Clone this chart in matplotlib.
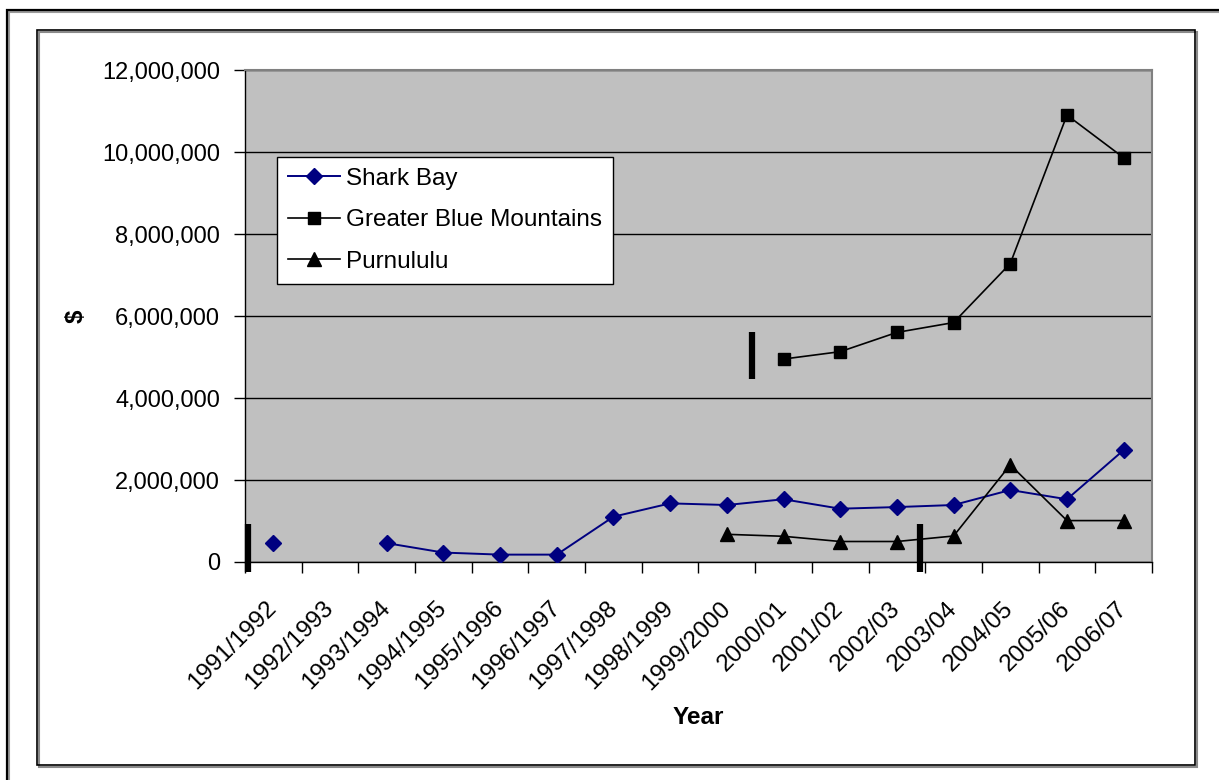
import matplotlib
matplotlib.use("Agg")
import matplotlib.pyplot as plt
from matplotlib.patches import Rectangle
from matplotlib.ticker import FuncFormatter, FixedLocator
from matplotlib.transforms import ScaledTranslation
import numpy as np

plt.rcParams['font.family'] = ['Liberation Sans', 'DejaVu Sans']

years = ["1991/1992", "1992/1993", "1993/1994", "1994/1995", "1995/1996",
         "1996/1997", "1997/1998", "1998/1999", "1999/2000", "2000/01",
         "2001/02", "2002/03", "2003/04", "2004/05", "2005/06", "2006/07"]

shark_bay = [460000, None, 460000, 230000, 180000, 180000, 1105000, 1430000,
             1390000, 1530000, 1300000, 1340000, 1390000, 1756000, 1530000,
             2730000]
blue_mountains = [None, None, None, None, None, None, None, None, None,
                  4950000, 5130000, 5600000, 5840000, 7280000, 10900000,
                  9860000]
purnululu = [None, None, None, None, None, None, None, None, 675000,
             627000, 500000, 500000, 634000, 2370000, 1010000, 1010000]

# World Heritage listing markers: (category position, bottom, top)
listing_marks = [(-0.45, -240000, 930000),
                 (8.44, 4460000, 5620000),
                 (11.40, -240000, 930000)]

W, H = 1219, 780
fig = plt.figure(figsize=(W / 100, H / 100), dpi=100)


def fx(px):
    return px / W


def fy(py):
    return 1 - py / H


# Outer and inner frames of the chart object
outer_shadow = Rectangle((fx(9), fy(800)), fx(1240), fy(12) - fy(800),
                         transform=fig.transFigure, fill=False,
                         edgecolor='#9a9a9a', lw=1.5)
outer = Rectangle((fx(7), fy(800)), fx(1240), fy(10) - fy(800),
                  transform=fig.transFigure, fill=False,
                  edgecolor='black', lw=1.6)
inner_shadow = Rectangle((fx(39), fy(767)), fx(1158), fy(32) - fy(767),
                         transform=fig.transFigure, fill=False,
                         edgecolor='#8a8a8a', lw=1.5)
inner = Rectangle((fx(37), fy(765)), fx(1158), fy(30) - fy(765),
                  transform=fig.transFigure, fill=False,
                  edgecolor='black', lw=1.2)
for p in (outer_shadow, outer, inner_shadow, inner):
    fig.add_artist(p)

ax = fig.add_axes([fx(245), fy(562), fx(1152) - fx(245), fy(70) - fy(562)])
ax.set_facecolor('#C0C0C0')

x = np.arange(len(years))


def series(vals):
    return np.array([np.nan if v is None else v for v in vals], dtype=float)


ax.plot(x, series(shark_bay), color='#000080', lw=1.4, marker='D',
        markersize=8.5, label='Shark Bay', zorder=4)
ax.plot(x, series(blue_mountains), color='black', lw=1.2, marker='s',
        markersize=9, label='Greater Blue Mountains', zorder=4)
ax.plot(x, series(purnululu), color='black', lw=1.2, marker='^',
        markersize=10, label='Purnululu', zorder=4)

for xm, y0, y1 in listing_marks:
    ax.plot([xm, xm], [y0, y1], color='black', lw=4.5,
            solid_capstyle='butt', clip_on=False, zorder=6)

ax.set_xlim(-0.5, len(years) - 0.5)
ax.set_ylim(0, 12000000)
ax.yaxis.set_major_locator(FixedLocator(np.arange(0, 12000001, 2000000)))
ax.yaxis.set_major_formatter(FuncFormatter(lambda v, p: f"{int(v):,}"))
ax.grid(axis='y', color='black', lw=1.0)
ax.set_axisbelow(True)

# Tick marks on category boundaries, labels centred on categories
ax.set_xticks(np.arange(-0.5, len(years), 1.0))
ax.set_xticklabels([])
ax.set_xticks(x, minor=True)
ax.set_xticklabels(years, minor=True, rotation=45, ha='right', va='center',
                   rotation_mode='anchor', fontsize=17.5)
shift = ScaledTranslation(-7 / 100, 0, fig.dpi_scale_trans)
for lbl in ax.get_xticklabels(minor=True):
    lbl.set_transform(lbl.get_transform() + shift)
ax.tick_params(axis='x', which='major', length=8, width=1, direction='out')
ax.tick_params(axis='x', which='minor', length=0, pad=31)
ax.tick_params(axis='y', length=8, width=1, direction='out', pad=10,
               labelsize=17)

for side in ('top', 'right'):
    ax.spines[side].set_color('#808080')
    ax.spines[side].set_linewidth(1.5)
for side in ('left', 'bottom'):
    ax.spines[side].set_color('black')
    ax.spines[side].set_linewidth(1.0)

fig.text(fx(698), fy(718), 'Year', ha='center', va='center',
         fontsize=17.5, fontweight='bold')
fig.text(fx(76), fy(316), '$', ha='center', va='center', rotation=90,
         fontsize=17.5, fontweight='bold')

leg = ax.legend(loc='upper left', bbox_to_anchor=(fx(277), fy(157)),
                bbox_transform=fig.transFigure, borderaxespad=0,
                frameon=True, fancybox=False, framealpha=1,
                edgecolor='black', fontsize=17.5, handlelength=2.15,
                handletextpad=0.25, labelspacing=0.8, borderpad=0.45)
leg.get_frame().set_linewidth(1.0)

fig.savefig('out.png', dpi=100)
